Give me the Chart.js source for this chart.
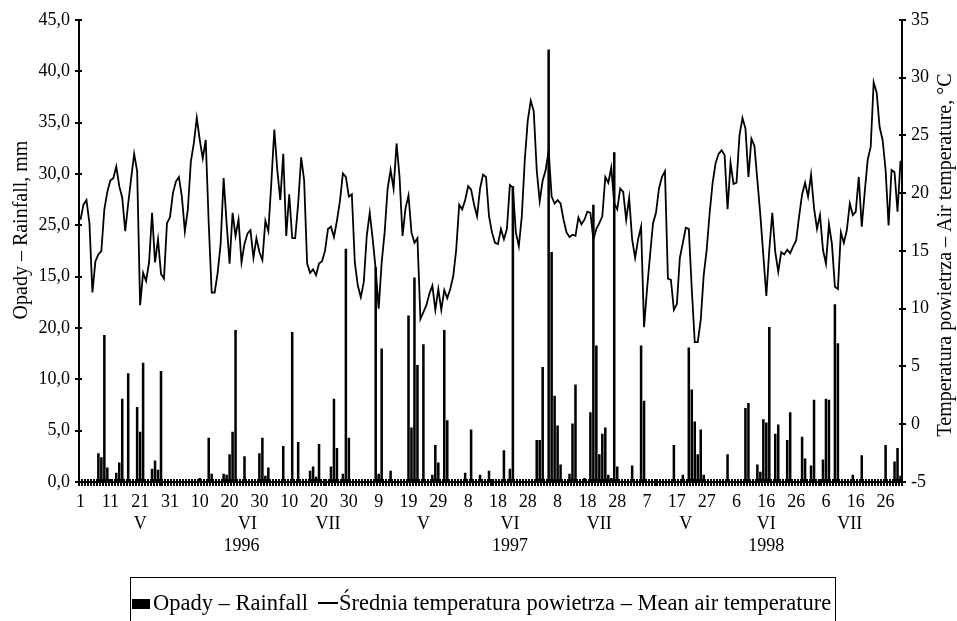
<!DOCTYPE html>
<html>
<head>
<meta charset="utf-8">
<script src="https://cdn.jsdelivr.net/npm/chart.js@4.4.1/dist/chart.umd.min.js"></script>
<style>
  html, body { margin: 0; padding: 0; background: #fff; }
</style>
</head>
<body>
<canvas id="chart" width="957" height="621"></canvas>
<script>
// daily rainfall, mm (1 May - 31 July)
const rain1996 = [
  0,0,0,0,0,0,2.8,2.4,14.3,1.4,
  0.3,0,0.9,1.9,8.1,0,10.6,0,0,7.3,
  4.9,11.6,0,0,1.3,2.1,1.2,10.8,0,0,
  0,0,0,0,0,0,0,0,0,0,
  0.4,0,0,4.3,0.8,0,0,0,0.8,0.7,
  2.7,4.9,14.8,0,0,2.5,0,0,0,0,
  2.8,4.3,0.6,1.4,0,0,0,0,3.5,0,
  0,14.6,0,3.9,0,0,0,1.1,1.5,0.5,
  3.7,0,0,0,1.5,8.1,3.3,0,0.8,22.7,
  4.3,0
];
const rain1997 = [
  0,0,0,0,0,0,0,20.9,0.8,13.0,
  0,0,1.1,0,0,0,0,0,16.2,5.3,
  19.9,11.4,0,13.4,0,0,0.7,3.6,1.9,0,
  14.8,6.0,0,0,0,0,0,0.9,0,5.1,
  0,0,0.7,0,0,1.1,0,0,0,0,
  3.1,0,1.3,28.8,0,0,0,0,0,0,
  0,4.1,4.1,11.2,0,42.1,22.4,8.4,5.5,1.7,
  0,0,0.8,5.7,9.5,0,0,0.4,0,6.8,
  27.0,13.3,2.7,4.7,5.3,0.7,0.4,32.1,1.5,0,
  0,0
];
const rain1998 = [
  0,1.6,0,0,13.3,7.9,0,0,0,0,
  0,0,0,0,0,3.6,0,0,0.7,0,
  13.1,9.0,5.9,2.7,5.1,0.7,0,0,0,0,
  0,0,0,2.7,0,0,0,0,0,7.2,
  7.7,0,0,1.7,1.0,6.1,5.8,15.1,0,4.7,
  5.6,0,0,4.1,6.8,0,0,0,4.4,2.3,
  0,1.6,8.0,0,0,2.2,8.1,8.0,0,17.3,
  13.5,0,0,0,0,0.7,0,0,2.6,0,
  0,0,0,0,0,0,3.6,0,0,2.0,
  3.3,0.6
];

// daily mean air temperature, °C
const temp1996 = [
  17.7,19.0,19.4,17.4,11.4,14.1,14.7,15.0,18.6,20.1,
  21.1,21.3,22.3,20.6,19.6,16.7,19.1,21.3,23.4,21.9,
  10.3,13.1,12.4,14.0,18.3,14.0,16.0,13.0,12.6,17.4,
  17.9,20.0,21.0,21.4,19.7,16.7,18.6,22.7,24.3,26.5,
  24.6,23.0,24.6,17.4,11.4,11.4,13.1,15.6,21.3,17.4,
  13.9,18.3,16.3,17.7,14.0,15.6,16.5,16.8,14.4,16.1,
  14.9,14.2,17.6,16.7,20.9,25.5,22.0,19.4,23.4,16.3,
  19.9,16.1,16.1,19.1,23.1,21.1,13.9,13.1,13.4,12.9,
  13.9,14.1,15.0,16.9,17.1,16.2,17.6,19.3,21.7,21.4,
  19.7,19.9
];
const temp1997 = [
  14.0,12.0,11.0,12.3,16.3,18.3,16.0,13.4,10.0,14.0,
  16.6,20.4,22.0,20.4,24.3,21.4,16.3,18.7,19.8,16.6,
  15.7,16.1,9.1,9.7,10.3,11.3,12.0,9.9,11.7,9.9,
  11.6,10.9,11.7,12.8,15.1,19.0,18.6,19.4,20.6,20.3,
  19.0,18.0,20.4,21.6,21.4,18.0,16.6,15.7,15.6,16.9,
  16.0,16.9,20.7,20.5,16.6,15.4,18.0,22.9,26.3,28.0,
  27.1,22.0,19.3,21.1,22.0,23.7,19.7,19.1,19.4,19.1,
  17.7,16.6,16.2,16.4,16.3,17.9,17.3,17.7,18.4,18.3,
  16.0,16.9,17.4,18.0,21.4,20.9,22.2,19.1,18.6,20.4,
  20.1,17.7
];
const temp1998 = [
  19.6,16.0,14.4,16.0,17.1,8.4,11.7,14.6,17.4,18.3,
  20.4,21.4,21.9,12.6,12.5,9.9,10.4,14.4,15.7,17.0,
  16.9,11.7,7.1,7.1,9.0,12.9,15.1,18.3,20.9,22.6,
  23.4,23.7,23.3,18.6,22.6,20.8,20.9,25.0,26.5,25.6,
  21.4,24.7,24.1,21.1,18.1,14.6,11.1,15.1,18.3,14.9,
  13.2,14.9,14.7,15.1,14.8,15.4,15.9,18.0,19.9,20.9,
  19.7,21.6,18.7,16.9,18.1,15.1,13.9,17.3,15.6,11.9,
  11.7,16.6,15.7,16.8,19.1,18.1,18.4,21.4,17.1,20.1,
  22.9,24.0,29.6,28.7,25.7,24.6,22.0,17.2,22.0,21.8,
  18.4,22.8
];

// axis texts
const dayTicks = ["1","11","21","31","10","20","30","10","20","30","9","19","29","8","18","28","8","18","28","7","17","27","6","16","26","6","16","26"];
const monthNames = ["V","VI","VII","V","VI","VII","V","VI","VII"];
const monthAt = [20,56,83,115,144,174,203,230,258];
const yearNames = ["1996","1997","1998"];
const yearAt = [54,144,230];
const rainTickText = ["0,0","5,0","10,0","20,0","15,0","25,0","30,0","35,0","40,0","45,0"];
const leftTitle = "Opady \u2013 Rainfall, mm";
const rightTitle = "Temperatura powietrza \u2013 Air temperature, \u00b0C";
const rainName = "Opady \u2013 Rainfall";
const tempName = "\u015arednia temperatura powietrza \u2013 Mean air temperature";

const FONT = "'Liberation Serif', 'Times New Roman', serif";

const rain = rain1996.concat(rain1997, rain1998);
const temp = temp1996.concat(temp1997, temp1998);

const labels = rain.map((_, i) => {
  const m = monthAt.indexOf(i);
  const y = yearAt.indexOf(i);
  return [
    i % 10 === 0 ? dayTicks[i / 10] : "",
    m >= 0 ? monthNames[m] : "",
    y >= 0 ? yearNames[y] : ""
  ];
});

// tick marks that cross the axis lines
const crossTicks = {
  id: "crossTicks",
  afterDraw(chart) {
    const ctx = chart.ctx;
    const x = chart.scales.x, yL = chart.scales.yL, yR = chart.scales.yR;
    const a = chart.chartArea;
    ctx.save();
    ctx.strokeStyle = "#000";
    ctx.lineWidth = 2;
    ctx.beginPath();
    for (let i = 0; i <= rain.length; i++) {
      const px = Math.round(x.getPixelForValue(i - 0.5));
      ctx.moveTo(px, a.bottom - 3);
      ctx.lineTo(px, a.bottom + 4);
    }
    yL.ticks.forEach(t => {
      const py = Math.round(yL.getPixelForValue(t.value));
      ctx.moveTo(a.left - 4, py);
      ctx.lineTo(a.left + 3, py);
    });
    yR.ticks.forEach(t => {
      const py = Math.round(yR.getPixelForValue(t.value));
      ctx.moveTo(a.right - 3, py);
      ctx.lineTo(a.right + 4, py);
    });
    ctx.stroke();
    ctx.restore();
  }
};

// rotated axis titles
const axisTitles = {
  id: "axisTitles",
  afterDraw(chart) {
    const ctx = chart.ctx;
    ctx.save();
    ctx.fillStyle = "#000";
    ctx.font = "20px " + FONT;
    ctx.textAlign = "center";
    ctx.textBaseline = "middle";
    [[22, 230, leftTitle], [946, 255, rightTitle]].forEach(([cx, cy, txt]) => {
      ctx.save();
      ctx.translate(cx, cy);
      ctx.rotate(-Math.PI / 2);
      ctx.fillText(txt, 0, 0);
      ctx.restore();
    });
    ctx.restore();
  }
};

// legend in a box under the chart
const boxLegend = {
  id: "boxLegend",
  afterDraw(chart) {
    const ctx = chart.ctx;
    const ds = chart.data.datasets;
    const barDs = ds.find(d => d.type === "bar");
    const lineDs = ds.find(d => d.type === "line");
    ctx.save();
    ctx.font = "22.5px " + FONT;
    ctx.textBaseline = "middle";
    ctx.fillStyle = "#000";
    ctx.strokeStyle = "#000";
    const cy = 604;
    const left = 130;
    ctx.fillRect(left + 2, cy - 5, 18, 10);
    const t1 = left + 23;
    ctx.fillText(barDs.label, t1, cy);
    const m0 = t1 + ctx.measureText(barDs.label).width + 10;
    ctx.lineWidth = 2;
    ctx.beginPath();
    ctx.moveTo(m0, cy - 1);
    ctx.lineTo(m0 + 20, cy - 1);
    ctx.stroke();
    const t2 = m0 + 21;
    ctx.fillText(lineDs.label, t2, cy);
    const right = t2 + ctx.measureText(lineDs.label).width + 4;
    ctx.lineWidth = 1;
    ctx.strokeRect(left + 0.5, 577.5, Math.round(right - left), 80);
    ctx.restore();
  }
};

new Chart(document.getElementById("chart"), {
  type: "bar",
  data: {
    labels: labels,
    datasets: [
      {
        type: "line",
        label: tempName,
        data: temp,
        yAxisID: "yR",
        borderColor: "#000",
        borderWidth: 1.8,
        pointRadius: 0,
        tension: 0,
        fill: false
      },
      {
        type: "bar",
        label: rainName,
        data: rain,
        yAxisID: "yL",
        backgroundColor: "#000",
        barPercentage: 0.85,
        categoryPercentage: 1.0
      }
    ]
  },
  options: {
    responsive: false,
    animation: false,
    layout: { padding: { top: 15, left: 0, right: 0, bottom: 0 } },
    plugins: {
      legend: { display: false },
      tooltip: { enabled: false }
    },
    scales: {
      x: {
        type: "category",
        offset: true,
        grid: { display: false, drawTicks: false },
        border: { display: true, color: "#000", width: 2 },
        ticks: {
          autoSkip: false,
          maxRotation: 0,
          minRotation: 0,
          padding: 9,
          color: "#000",
          font: { family: FONT, size: 18, lineHeight: 1.23 }
        },
        afterFit: s => { s.height = 139; }
      },
      yL: {
        position: "left",
        min: 0,
        max: 45,
        grid: { display: false, drawTicks: false },
        border: { display: true, color: "#000", width: 2 },
        ticks: {
          stepSize: 5,
          padding: 9,
          color: "#000",
          font: { family: FONT, size: 18 },
          callback: v => rainTickText[Math.round(v / 5)]
        },
        afterFit: s => { s.width = 79; }
      },
      yR: {
        position: "right",
        min: -5,
        max: 35,
        grid: { display: false, drawTicks: false },
        border: { display: true, color: "#000", width: 2 },
        ticks: {
          stepSize: 5,
          padding: 9,
          color: "#000",
          font: { family: FONT, size: 18 },
          callback: v => String(v)
        },
        afterFit: s => { s.width = 55; }
      }
    }
  },
  plugins: [crossTicks, axisTitles, boxLegend]
});
</script>
</body>
</html>
